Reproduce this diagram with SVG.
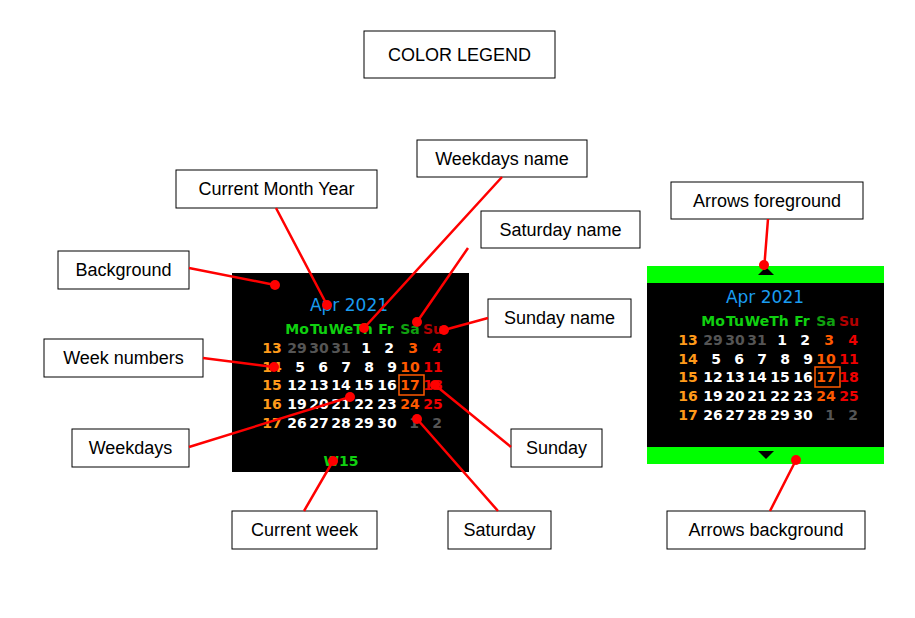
<svg xmlns="http://www.w3.org/2000/svg" width="915" height="618" viewBox="0 0 915 618">
<style>
.box{fill:#fff;stroke:#000;stroke-width:1}
.lbl{font-family:"Liberation Sans",Arial,sans-serif;font-size:18px;fill:#000;text-anchor:middle}
.ln{stroke:#f00;stroke-width:2.5;fill:none}
.dot{fill:#f00}
.c{font-family:"DejaVu Sans",sans-serif;font-weight:bold;font-size:14px;text-anchor:middle}
.t{font-family:"DejaVu Sans",sans-serif;font-size:17px;fill:#1a9cf0;text-anchor:middle}
.w{fill:#fff}.g{fill:#555}.o{fill:#ff9a1a}.s{fill:#ff5a00}.r{fill:#e00}.gr{fill:#10d010}.dg{fill:#10a010}.dr{fill:#b00000}
</style>
<defs>
<g id="cal">
<text class="t" x="349" y="311">Apr 2021</text>
<g class="c">
<text class="gr" x="297" y="334">Mo</text><text class="gr" x="319" y="334">Tu</text><text class="gr" x="341" y="334">We</text><text class="gr" x="363" y="334">Th</text><text class="gr" x="386" y="334">Fr</text><text class="dg" x="410" y="334">Sa</text><text class="dr" x="433" y="334">Su</text>
<text class="o" x="272" y="353">13</text><text class="g" x="297" y="353">29</text><text class="g" x="319" y="353">30</text><text class="g" x="341" y="353">31</text><text class="w" x="366" y="353">1</text><text class="w" x="389" y="353">2</text><text class="s" x="413" y="353">3</text><text class="r" x="437" y="353">4</text>
<text class="o" x="272" y="372">14</text><text class="w" x="300" y="372">5</text><text class="w" x="323" y="372">6</text><text class="w" x="346" y="372">7</text><text class="w" x="369" y="372">8</text><text class="w" x="392" y="372">9</text><text class="s" x="410" y="372">10</text><text class="r" x="433" y="372">11</text>
<text class="o" x="272" y="390">15</text><text class="w" x="297" y="390">12</text><text class="w" x="319" y="390">13</text><text class="w" x="341" y="390">14</text><text class="w" x="364" y="390">15</text><text class="w" x="387" y="390">16</text><text class="s" x="410" y="390">17</text><text class="r" x="433" y="390">18</text>
<text class="o" x="272" y="409">16</text><text class="w" x="297" y="409">19</text><text class="w" x="319" y="409">20</text><text class="w" x="341" y="409">21</text><text class="w" x="364" y="409">22</text><text class="w" x="387" y="409">23</text><text class="s" x="410" y="409">24</text><text class="r" x="433" y="409">25</text>
<text class="o" x="272" y="428">17</text><text class="w" x="297" y="428">26</text><text class="w" x="319" y="428">27</text><text class="w" x="341" y="428">28</text><text class="w" x="364" y="428">29</text><text class="w" x="387" y="428">30</text><text class="g" x="414" y="428">1</text><text class="g" x="437" y="428">2</text>
</g>
<rect x="399" y="375" width="25" height="20" fill="none" stroke="#ff5a00" stroke-width="1.5"/>
</g>
</defs>
<rect width="915" height="618" fill="#fff"/>
<g id="calendar1">
<rect x="232" y="273" width="237" height="199" fill="#000"/>
<use href="#cal"/>
<text class="c gr" x="341" y="466">W15</text>
</g>
<g id="calendar2">
<rect x="647" y="266" width="237" height="198" fill="#0f0"/>
<rect x="647" y="283" width="237" height="164" fill="#000"/>
<use href="#cal" transform="translate(416,-8)"/>
<polygon points="758,275 774,275 766,267" fill="#000"/>
<polygon points="758,451 774,451 766,459" fill="#000"/>
</g>
<g id="title"><rect class="box" x="364" y="31" width="191" height="47"/><text class="lbl" x="459.5" y="61">COLOR  LEGEND</text></g>
<g id="n-cmy"><rect class="box" x="176" y="170" width="201" height="38"/><text class="lbl" x="276.5" y="195">Current Month Year</text></g>
<g id="n-wdn"><rect class="box" x="417" y="140" width="170" height="37"/><text class="lbl" x="502" y="165">Weekdays name</text></g>
<g id="n-san"><rect class="box" x="481" y="211" width="159" height="37"/><text class="lbl" x="560.5" y="236">Saturday name</text></g>
<g id="n-bg"><rect class="box" x="58" y="251" width="131" height="38"/><text class="lbl" x="123.5" y="276">Background</text></g>
<g id="n-sun"><rect class="box" x="488" y="299" width="143" height="38"/><text class="lbl" x="559.5" y="324">Sunday name</text></g>
<g id="n-wn"><rect class="box" x="44" y="339" width="159" height="38"/><text class="lbl" x="123.5" y="364">Week numbers</text></g>
<g id="n-wd"><rect class="box" x="72" y="429" width="117" height="38"/><text class="lbl" x="130.5" y="454">Weekdays</text></g>
<g id="n-su"><rect class="box" x="511" y="429" width="91" height="38"/><text class="lbl" x="556.5" y="454">Sunday</text></g>
<g id="n-sa"><rect class="box" x="448" y="511" width="103" height="38"/><text class="lbl" x="499.5" y="536">Saturday</text></g>
<g id="n-cw"><rect class="box" x="232" y="511" width="145" height="38"/><text class="lbl" x="304.5" y="536">Current week</text></g>
<g id="n-af"><rect class="box" x="671" y="182" width="192" height="37"/><text class="lbl" x="767" y="207">Arrows foreground</text></g>
<g id="n-ab"><rect class="box" x="667" y="511" width="198" height="38"/><text class="lbl" x="766" y="536">Arrows background</text></g>
<g id="connectors">
<path class="ln" d="M276,208L327,305M502,177L364,328M468,248L417,322M189,268L275,285M488,318L444,330M203,358L274,367M189,447L350,397M511,447L435,385M498,511L417,419M304,511L333,461M768,219L764,270M770,511L796,460"/>
<g class="dot">
<circle cx="327" cy="305" r="5"/><circle cx="364" cy="328" r="5"/><circle cx="417" cy="322" r="5"/><circle cx="275" cy="285" r="5"/><circle cx="444" cy="330" r="5"/><circle cx="274" cy="367" r="5"/><circle cx="350" cy="397" r="5"/><circle cx="435" cy="385" r="5"/><circle cx="417" cy="419" r="5"/><circle cx="333" cy="461" r="5"/><circle cx="764" cy="265" r="5"/><circle cx="796" cy="460" r="5"/>
</g>
</g>
</svg>
